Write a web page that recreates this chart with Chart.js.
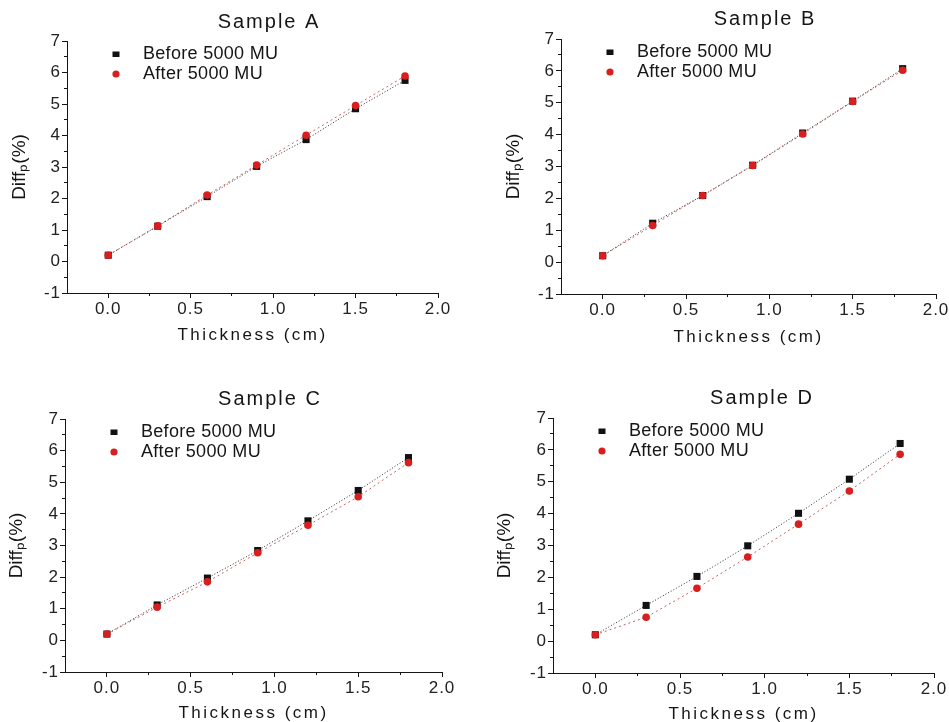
<!DOCTYPE html>
<html>
<head>
<meta charset="utf-8">
<script src="https://cdn.jsdelivr.net/npm/chart.js@4.4.1/dist/chart.umd.min.js"></script>
<style>
html, body { margin: 0; padding: 0; background: #ffffff; }
body { width: 949px; height: 722px; overflow: hidden; position: relative; }
canvas { position: absolute; display: block; }
</style>
</head>
<body>
<canvas id="cA" width="480" height="380"></canvas>
<canvas id="cB" width="480" height="380"></canvas>
<canvas id="cC" width="480" height="380"></canvas>
<canvas id="cD" width="480" height="380"></canvas>
<script>
// ---------------- data ----------------
const thickness = [0, 0.3, 0.6, 0.9, 1.2, 1.5, 1.8];
const sampleNames = ['Sample A', 'Sample B', 'Sample C', 'Sample D'];
const seriesLabels = ['Before 5000 MU', 'After 5000 MU'];

const beforeA = [0.20, 1.12, 2.06, 3.02, 3.87, 4.85, 5.75];
const afterA  = [0.20, 1.13, 2.11, 3.06, 4.01, 4.95, 5.89];
const beforeB = [0.20, 1.22, 2.09, 3.04, 4.05, 5.05, 6.07];
const afterB  = [0.20, 1.15, 2.09, 3.03, 4.02, 5.04, 6.02];
const beforeC = [0.20, 1.12, 1.97, 2.84, 3.78, 4.74, 5.78];
const afterC  = [0.20, 1.05, 1.85, 2.77, 3.64, 4.54, 5.62];
const beforeD = [0.20, 1.12, 2.03, 2.99, 4.01, 5.08, 6.20];
const afterD  = [0.20, 0.75, 1.66, 2.64, 3.67, 4.71, 5.86];

const xTickValues = [0, 0.5, 1.0, 1.5, 2.0];
const yTickValues = [-1, 0, 1, 2, 3, 4, 5, 6, 7];
const xAxisTitle = 'Thickness (cm)';
const yAxisTitle = 'Diff\u209A(%)';

// ---------------- layout / style ----------------
const CW = 480, CH = 380;
const FONT = "'Liberation Sans', Arial, Helvetica, sans-serif";
const INK = '#151515';
const BLACK = '#111111', RED = '#d81e1e';
const TITLE_SIZE = 20, XTITLE_SIZE = 17, YTITLE_SIZE = 19, TICK_SIZE = 17, LEGEND_SIZE = 18;

const panels = [
  { canvas: 'cA', name: sampleNames[0], before: beforeA, after: afterA, x: 0,   y: 0,
    area: { l: 67,  r: 438, t: 41,  b: 293 }, titleC: [269, 22],  yTitleX: 20,  xTitleY: 335 },
  { canvas: 'cB', name: sampleNames[1], before: beforeB, after: afterB, x: 475, y: 0,
    area: { l: 561, r: 936, t: 39,  b: 294 }, titleC: [765, 19.5], yTitleX: 514, xTitleY: 337 },
  { canvas: 'cC', name: sampleNames[2], before: beforeC, after: afterC, x: 0,   y: 360,
    area: { l: 65,  r: 442, t: 419, b: 672 }, titleC: [270, 399], yTitleX: 17,  xTitleY: 713 },
  { canvas: 'cD', name: sampleNames[3], before: beforeD, after: afterD, x: 475, y: 360,
    area: { l: 553, r: 934, t: 418, b: 673 }, titleC: [762, 398], yTitleX: 505, xTitleY: 714 }
];

Chart.defaults.font.family = FONT;
Chart.defaults.color = INK;

// legend swatches (small images used as legend point styles)
function swatch(kind, color) {
  const c = document.createElement('canvas');
  c.width = 8; c.height = 8;
  const g = c.getContext('2d');
  g.fillStyle = color;
  if (kind === 'rect') { g.fillRect(0.5, 1.5, 7, 5.5); }
  else { g.beginPath(); g.arc(4, 4, 3.6, 0, Math.PI * 2); g.fill(); }
  return c;
}
const legendSwatches = [swatch('rect', BLACK), swatch('circle', RED)];

function withSpacing(ctx, sp, fn) {
  const has = 'letterSpacing' in ctx;
  const prev = has ? ctx.letterSpacing : null;
  if (has) ctx.letterSpacing = sp + 'px';
  try { fn(); } finally { if (has) ctx.letterSpacing = prev; }
}

// places legend/title and applies letter spacing to text groups
const panelLayout = {
  id: 'panelLayout',
  afterLayout(chart, args, o) {
    const ca = chart.chartArea;
    const lg = chart.legend;
    if (lg) {
      const w = lg.width, h = lg.height;
      lg.left = ca.left + o.legendDx; lg.right = lg.left + w;
      lg.top = ca.top + o.legendDy;   lg.bottom = lg.top + h;
      if (!lg._spPatched) {
        lg._spPatched = true;
        const ol = lg.draw;
        lg.draw = function (a) { withSpacing(this.ctx, o.legendSpacing, () => ol.call(this, a)); };
      }
    }
    const tb = chart.titleBlock;
    if (tb) {
      const w = tb.right - tb.left;
      tb.left = o.titleCenterX - w / 2; tb.right = tb.left + w;
      if (!tb._spPatched) {
        tb._spPatched = true;
        const od = tb.draw;
        tb.draw = function (a) { withSpacing(this.ctx, o.titleSpacing, () => od.call(this, a)); };
      }
    }
    Object.values(chart.scales).forEach(s => {
      if (s._spPatched) return;
      s._spPatched = true;
      const dl = s.drawLabels, dt = s.drawTitle;
      s.drawLabels = function (a) { withSpacing(this.ctx, o.tickSpacing, () => dl.call(this, a)); };
      s.drawTitle = function (a) {
        withSpacing(this.ctx, this.axis === 'x' ? o.xTitleSpacing : 0, () => dt.call(this, a));
      };
    });
  }
};

// minor ticks halfway between the major ticks of each scale
const minorTicks = {
  id: 'minorTicks',
  afterDraw(chart, args, o) {
    const ctx = chart.ctx;
    const xs = chart.scales.x, ys = chart.scales.y;
    const mids = vals => vals.slice(1).map((v, i) => (v + vals[i]) / 2);
    const al = p => Math.round(p - 0.5) + 0.5;
    ctx.save();
    ctx.strokeStyle = o.color;
    ctx.lineWidth = 1;
    ctx.beginPath();
    mids(xs.ticks.map(t => t.value)).forEach(v => {
      const px = al(xs.getPixelForValue(v));
      ctx.moveTo(px, xs.top); ctx.lineTo(px, xs.top + o.length);
    });
    mids(ys.ticks.map(t => t.value)).forEach(v => {
      const py = al(ys.getPixelForValue(v));
      ctx.moveTo(ys.right, py); ctx.lineTo(ys.right - o.length, py);
    });
    ctx.stroke();
    ctx.restore();
  }
};

panels.forEach(p => {
  const cv = document.getElementById(p.canvas);
  cv.style.left = p.x + 'px';
  cv.style.top = p.y + 'px';

  const yAxisWidth = p.area.l - p.x;
  const xAxisHeight = CH - (p.area.b - p.y);
  const padRight = CW - (p.area.r - p.x);
  const tLH = TITLE_SIZE * 1.2;
  const titlePadTop = (p.titleC[1] - p.y) - tLH / 2;
  const titlePadBottom = (p.area.t - p.y) - titlePadTop - tLH;
  const yTitlePad = (p.yTitleX - p.x) - YTITLE_SIZE * 1.2 / 2;
  const xTitlePad = CH - (p.xTitleY - p.y) - XTITLE_SIZE * 1.2 / 2;

  new Chart(cv, {
    type: 'scatter',
    data: {
      datasets: [
        {
          label: seriesLabels[0],
          data: thickness.map((t, i) => ({ x: t, y: p.before[i] })),
          showLine: true,
          borderColor: 'rgba(20,20,20,0.9)',
          backgroundColor: BLACK,
          borderWidth: 1,
          borderDash: [1, 2],
          pointStyle: 'rect',
          pointRadius: 5,
          pointBorderWidth: 0,
          pointBackgroundColor: BLACK,
          order: 2
        },
        {
          label: seriesLabels[1],
          data: thickness.map((t, i) => ({ x: t, y: p.after[i] })),
          showLine: true,
          borderColor: 'rgba(190,70,70,0.85)',
          backgroundColor: RED,
          borderWidth: 1,
          borderDash: [2, 3],
          pointStyle: 'circle',
          pointRadius: 3.8,
          pointBorderWidth: 0,
          pointBackgroundColor: RED,
          order: 1
        }
      ]
    },
    options: {
      responsive: false,
      animation: false,
      events: [],
      devicePixelRatio: 1,
      layout: { padding: { left: 0, top: 0, right: padRight, bottom: 0 } },
      scales: {
        x: {
          type: 'linear',
          min: -0.25,
          max: 2.0,
          afterBuildTicks: s => { s.ticks = xTickValues.map(v => ({ value: v })); },
          afterFit: s => { s.height = xAxisHeight; },
          ticks: {
            callback: v => Number(v).toFixed(1),
            font: { size: TICK_SIZE },
            color: '#222222',
            padding: 1,
            maxRotation: 0,
            autoSkip: false
          },
          grid: { drawOnChartArea: false, drawTicks: true, tickLength: 5, tickColor: INK, tickWidth: 1 },
          border: { display: true, color: INK, width: 1 },
          title: {
            display: true, text: xAxisTitle, color: INK,
            font: { size: XTITLE_SIZE },
            padding: { top: 0, bottom: xTitlePad }
          }
        },
        y: {
          type: 'linear',
          min: -1,
          max: 7,
          afterBuildTicks: s => { s.ticks = yTickValues.map(v => ({ value: v })); },
          afterFit: s => { s.width = yAxisWidth; },
          ticks: {
            callback: v => String(v),
            font: { size: TICK_SIZE },
            color: '#222222',
            padding: 1,
            autoSkip: false
          },
          grid: { drawOnChartArea: false, drawTicks: true, tickLength: 5, tickColor: INK, tickWidth: 1 },
          border: { display: true, color: INK, width: 1 },
          title: {
            display: true, text: yAxisTitle, color: INK,
            font: { size: YTITLE_SIZE },
            padding: { top: yTitlePad, bottom: 0 }
          }
        }
      },
      plugins: {
        title: {
          display: true, text: p.name, color: INK,
          font: { size: TITLE_SIZE, weight: 'normal' },
          padding: { top: titlePadTop, bottom: titlePadBottom }
        },
        legend: {
          display: true,
          position: 'chartArea',
          align: 'start',
          labels: {
            usePointStyle: true,
            pointStyleWidth: 36,
            padding: 2,
            color: INK,
            font: { size: LEGEND_SIZE },
            generateLabels: chart => chart.data.datasets.map((ds, i) => ({
              text: ds.label,
              fillStyle: ds.pointBackgroundColor,
              strokeStyle: ds.pointBackgroundColor,
              lineWidth: 0,
              pointStyle: legendSwatches[i],
              hidden: false,
              datasetIndex: i,
              fontColor: INK
            }))
          }
        },
        tooltip: { enabled: false },
        panelLayout: {
          legendDx: 29, legendDy: 2,
          titleCenterX: p.titleC[0] - p.x,
          titleSpacing: 2, tickSpacing: 1, xTitleSpacing: 2.5, legendSpacing: 0.3
        },
        minorTicks: { color: INK, length: 3 }
      }
    },
    plugins: [panelLayout, minorTicks]
  });
});
</script>
</body>
</html>
